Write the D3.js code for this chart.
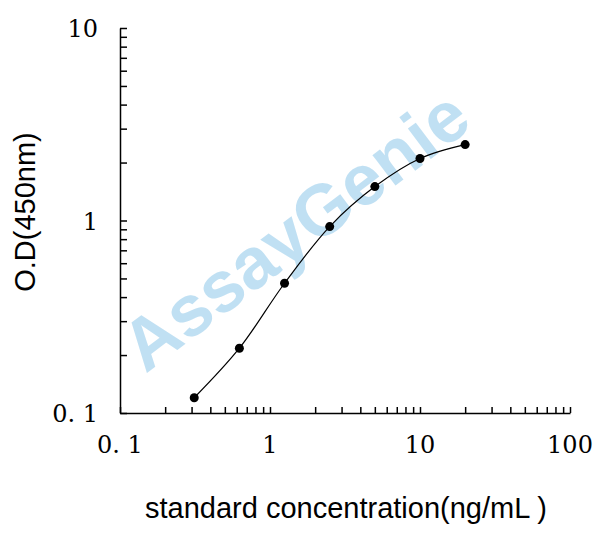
<html>
<head>
<script src="https://d3js.org/d3.v7.min.js"></script>
<style>body{margin:0;background:#fff}</style>
</head>
<body>
<div id="cont"></div>
<script>
var conc = [0.3125, 0.625, 1.25, 2.5, 5, 10, 20];
var od = [0.12, 0.217, 0.472, 0.93, 1.5, 2.1, 2.48];
var xTickLabels = ["0. 1", "1", "10", "100"];
var yTickLabels = ["0. 1", "1", "10"];

var svg = d3.select("#cont").append("svg")
    .attr("width", 608).attr("height", 538);

var x = d3.scaleLog().domain([0.1, 100]).range([120, 570]);
var y = d3.scaleLog().domain([0.1, 10]).range([413, 28]);

// watermark
svg.append("text")
    .attr("transform", "translate(310,250) rotate(-37)")
    .attr("text-anchor", "middle")
    .attr("font-family", "Liberation Sans, Arial")
    .attr("font-weight", "bold")
    .attr("font-size", 72)
    .attr("fill", "#8ec8ea")
    .attr("opacity", 0.55)
    .text("AssayGenie");

function minorTicks(lo, hi) {
    var t = [];
    for (var d = lo; d < hi; d *= 10)
        for (var k = 1; k < 10; k++) t.push(d * k);
    t.push(hi);
    return t;
}

var xAxis = d3.axisBottom(x).tickValues(minorTicks(0.1, 100))
    .tickSizeInner(-6).tickSizeOuter(0).tickFormat("");
var yAxis = d3.axisLeft(y).tickValues(minorTicks(0.1, 10))
    .tickSizeInner(-7).tickSizeOuter(0).tickFormat("");

svg.append("g").attr("transform", "translate(0,413)").call(xAxis)
    .call(function(g){ g.selectAll("line,path").attr("stroke", "#000").attr("stroke-width", 1.5); });
svg.append("g").attr("transform", "translate(120,0)").call(yAxis)
    .call(function(g){ g.selectAll("line,path").attr("stroke", "#000").attr("stroke-width", 1.5); });

var labelFont = "DejaVu Serif, serif";
svg.selectAll(".xl").data([0.1, 1, 10, 100]).enter().append("text")
    .attr("x", function(d){ return x(d); }).attr("y", 453)
    .attr("text-anchor", "middle").attr("font-family", labelFont).attr("font-size", 24)
    .text(function(d, i){ return xTickLabels[i]; });
svg.selectAll(".yl").data([0.1, 1, 10]).enter().append("text")
    .attr("x", 98).attr("y", function(d){ return y(d) + 9; })
    .attr("text-anchor", "end").attr("font-family", labelFont).attr("font-size", 24)
    .text(function(d, i){ return yTickLabels[i]; });

svg.append("text").attr("x", 346).attr("y", 518).attr("text-anchor", "middle")
    .attr("font-family", "Liberation Sans, Arial").attr("font-size", 29)
    .text("standard concentration(ng/mL )");
svg.append("text").attr("transform", "translate(35,212) rotate(-90)").attr("text-anchor", "middle")
    .attr("font-family", "Liberation Sans, Arial").attr("font-size", 29)
    .text("O.D(450nm)");

var pts = conc.map(function(c, i){ return [x(c), y(od[i])]; });
svg.append("path").attr("d", d3.line().curve(d3.curveCatmullRom)(pts))
    .attr("fill", "none").attr("stroke", "#000").attr("stroke-width", 1.2);
svg.selectAll(".pt").data(pts).enter().append("circle")
    .attr("cx", function(d){ return d[0]; }).attr("cy", function(d){ return d[1]; })
    .attr("r", 4.5).attr("fill", "#000");
</script>
</body>
</html>
